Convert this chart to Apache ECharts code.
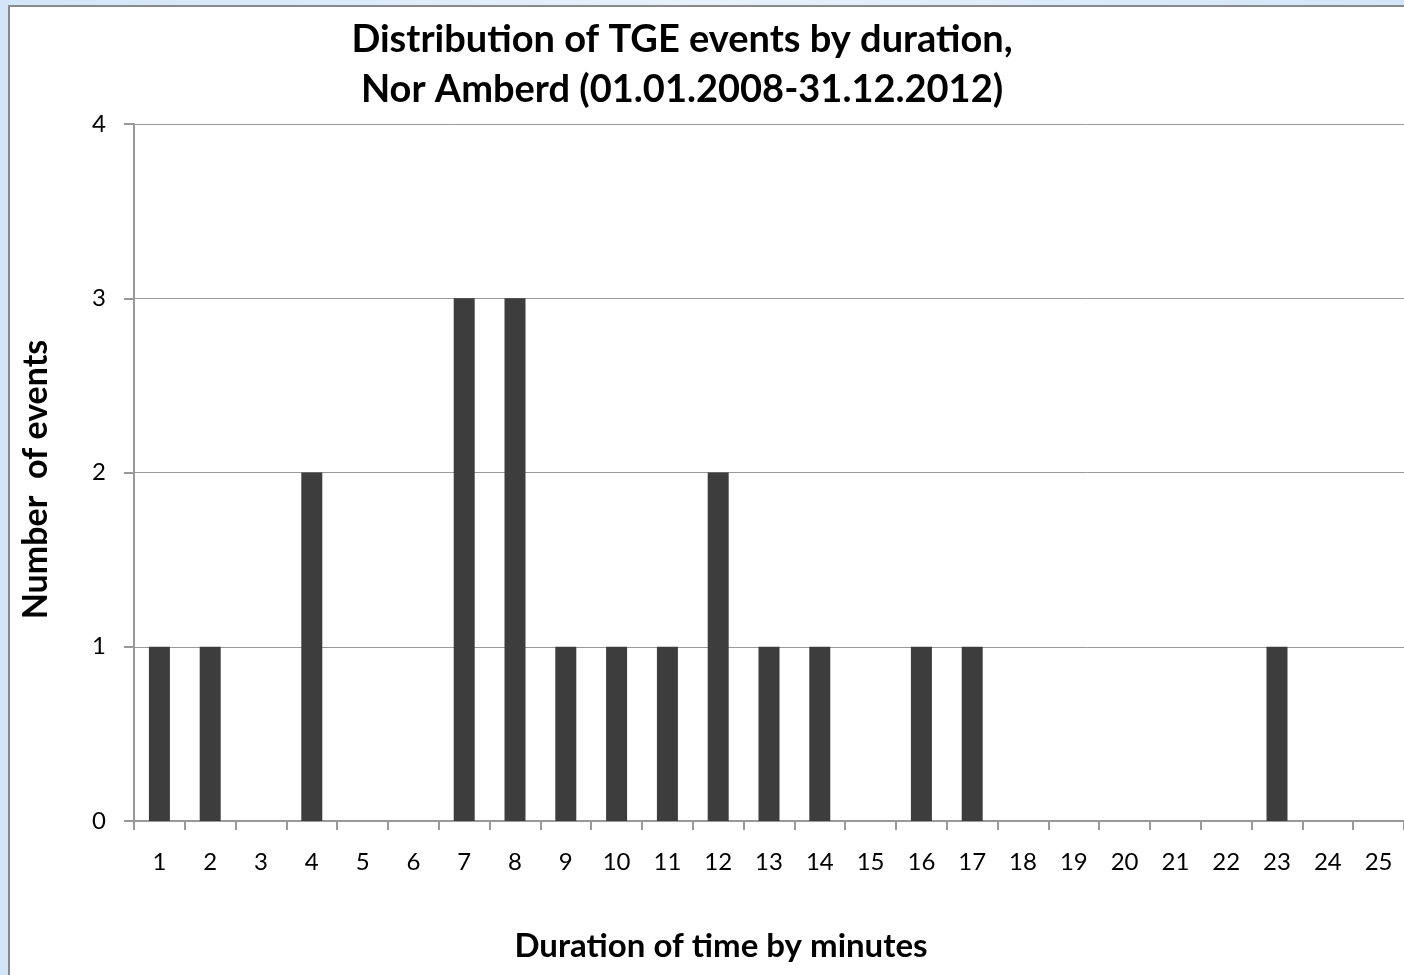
<!DOCTYPE html>
<html>
<head>
<meta charset="utf-8">
<script src="https://cdn.jsdelivr.net/npm/echarts@6/dist/echarts.min.js"></script>
<style>
html,body{margin:0;padding:0;width:1404px;height:975px;overflow:hidden;
  background:linear-gradient(90deg,#d3e5f8 0%,#e6f1fc 50%,#d3e5f8 100%);}
#frame{position:absolute;left:8px;top:5px;width:1396px;height:970px;background:#fff;
  border-left:2px solid #8a8a8a;border-top:2px solid #8a8a8a;box-sizing:border-box;}
#chart{position:absolute;left:0;top:0;width:1404px;height:975px;}
</style>
</head>
<body>
<div id="frame"></div>
<div id="chart"></div>
<script>
const titleLines = ['Distribution of TGE events by duration,', 'Nor Amberd (01.01.2008-31.12.2012)'];
const categories = ['1','2','3','4','5','6','7','8','9','10','11','12','13','14','15','16','17','18','19','20','21','22','23','24','25'];
const counts = [1,1,0,2,0,0,3,3,1,1,1,2,1,1,0,1,1,0,0,0,0,0,1,0,0];
const yTicks = [0,1,2,3,4];
const xAxisName = 'Duration of time by minutes';
const yAxisName = 'Number  of events';

const font = 'Lato, "Open Sans", sans-serif';
const chart = echarts.init(document.getElementById('chart'), null, {renderer:'canvas'});
chart.setOption({
  backgroundColor: 'transparent',
  animation: false,
  title: {
    text: titleLines.join('\n'),
    left: 677, top: 10, textAlign: 'center',
    textStyle: {fontFamily: font, fontWeight: 'bold', fontSize: 38, lineHeight: 50, color: '#000'}
  },
  grid: {left: 134, top: 124, right: 0, bottom: 154, containLabel: false},
  xAxis: {
    type: 'category',
    data: categories,
    name: xAxisName,
    nameLocation: 'middle',
    nameGap: 109,
    nameTextStyle: {fontFamily: font, fontWeight: 'bold', fontSize: 33, color: '#000', padding: [0, 96, 0, 0]},
    axisLine: {lineStyle: {color: '#999', width: 2}},
    axisTick: {show: true, length: 9, lineStyle: {color: '#999', width: 2}},
    axisLabel: {fontFamily: font, fontSize: 24, color: '#000', margin: 29, interval: 0}
  },
  yAxis: {
    type: 'value',
    min: yTicks[0], max: yTicks[yTicks.length-1], interval: 1,
    name: yAxisName,
    nameLocation: 'middle',
    nameGap: 81,
    nameRotate: 90,
    nameTextStyle: {fontFamily: font, fontWeight: 'bold', fontSize: 34, color: '#000', padding: [0, 14, 0, 0]},
    axisLine: {show: true, lineStyle: {color: '#999', width: 2}},
    axisTick: {show: true, length: 10, lineStyle: {color: '#999', width: 2}},
    axisLabel: {fontFamily: font, fontSize: 24, color: '#000', margin: 28},
    splitLine: {show: true, lineStyle: {color: '#999', width: 1}}
  },
  series: [{
    type: 'bar',
    data: counts,
    barWidth: 21,
    itemStyle: {color: '#3d3d3d', borderWidth: 0}
  }]
});
</script>
</body>
</html>
